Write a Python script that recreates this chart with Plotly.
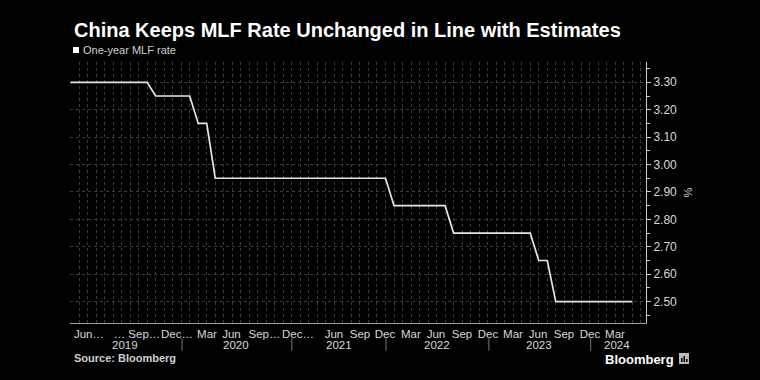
import plotly.graph_objects as go

# One-year MLF rate, one value per observation (x = observation index)
rate = [3.30, 3.30, 3.30, 3.30, 3.30, 3.30, 3.30, 3.30, 3.30, 3.30,
        3.25, 3.25, 3.25, 3.25, 3.25,
        3.15, 3.15,
        2.95, 2.95, 2.95, 2.95, 2.95, 2.95, 2.95, 2.95, 2.95, 2.95,
        2.95, 2.95, 2.95, 2.95, 2.95, 2.95, 2.95, 2.95, 2.95, 2.95, 2.95,
        2.85, 2.85, 2.85, 2.85, 2.85, 2.85, 2.85,
        2.75, 2.75, 2.75, 2.75, 2.75, 2.75, 2.75, 2.75, 2.75, 2.75,
        2.65, 2.65,
        2.50, 2.50, 2.50, 2.50, 2.50, 2.50, 2.50, 2.50, 2.50, 2.50]
obs = list(range(len(rate)))

# month tick labels (as drawn, with Bloomberg's truncation marks)
tick_pos = [2.17, 7.81, 12.51, 16.03, 18.91, 22.79, 26.72, 30.95, 34.0, 36.94,
            39.99, 42.93, 45.98, 49.04, 51.98, 54.92, 57.97, 61.02, 63.96]
tick_text = ["Jun…", "… Sep…", "Dec…", "Mar", "Jun", "Sep…", "Dec…", "Jun", "Sep", "Dec",
             "Mar", "Jun", "Sep", "Dec", "Mar", "Jun", "Sep", "Dec", "Mar"]

years = ["2019", "2020", "2021", "2022", "2023", "2024"]
year_pos = [6.40, 19.44, 31.48, 43.05, 55.03, 64.25]
year_sep = [13.1, 26.0, 37.06, 49.15, 61.1]

y_ticks = [2.50, 2.60, 2.70, 2.80, 2.90, 3.00, 3.10, 3.20, 3.30]

FONT = "Liberation Sans, Roboto, sans-serif"
GRID = "#3a3a3a"

fig = go.Figure()
fig.add_trace(go.Scatter(x=obs, y=rate, mode="lines",
                         line=dict(color="#e6e6e6", width=1.7),
                         name="One-year MLF rate", showlegend=False,
                         hoverinfo="skip"))

fig.update_layout(
    width=760, height=380,
    margin=dict(l=70, r=114, t=62, b=57),
    paper_bgcolor="#000000", plot_bgcolor="#000000",
    font=dict(family=FONT, color="#d9d9d9", size=12),
    showlegend=False,
)

fig.update_xaxes(
    range=[-0.06, 67.6],
    tickmode="array", tickvals=tick_pos, ticktext=tick_text, tickangle=0,
    ticks="", showgrid=False, zeroline=False,
    showline=True, linecolor="#9a9a9a", linewidth=1,
    tickfont=dict(family=FONT, size=11.5, color="#d9d9d9"),
    minor=dict(tickmode="linear", tick0=0, dtick=1, showgrid=True,
               gridcolor=GRID, griddash="dot", gridwidth=1, ticks=""),
)

fig.update_yaxes(
    side="right", range=[2.422, 3.374],
    tickmode="array", tickvals=y_ticks, tickformat=".2f",
    ticks="outside", ticklen=4, tickcolor="#cccccc",
    showgrid=True, gridcolor=GRID, griddash="dot", gridwidth=1,
    zeroline=False, showline=True, linecolor="#cccccc", linewidth=1,
    tickfont=dict(family=FONT, size=12, color="#d9d9d9"),
    title=dict(text="%", font=dict(family=FONT, size=11, color="#d9d9d9"), standoff=8),
    minor=dict(tickmode="linear", tick0=2.45, dtick=0.1, ticks="outside",
               ticklen=3, tickcolor="#cccccc", showgrid=False),
)

annotations = []
for label, pos in zip(years, year_pos):
    annotations.append(dict(x=pos, y=-0.084, xref="x", yref="paper", text=label,
                            showarrow=False, yanchor="middle", xanchor="center",
                            font=dict(family=FONT, size=11.5, color="#d9d9d9")))
shapes = []
for pos in year_sep:
    shapes.append(dict(type="line", xref="x", yref="paper", x0=pos, x1=pos,
                       y0=-0.058, y1=-0.106, line=dict(color="#777777", width=1)))

# title, legend, source, logo (placed in pixels, converted below)
annotations += [
    dict(x=72, y=30, text="<b>China Keeps MLF Rate Unchanged in Line with Estimates</b>",
         showarrow=False, xanchor="left", yanchor="middle",
         font=dict(family=FONT, size=20, color="#ffffff")),
    dict(x=81, y=50, text="One-year MLF rate", showarrow=False, xanchor="left", yanchor="middle",
         font=dict(family=FONT, size=11, color="#d0d0d0")),
    dict(x=72, y=358, text="<b>Source: Bloomberg</b>", showarrow=False, xanchor="left", yanchor="middle",
         font=dict(family=FONT, size=11, color="#d0d0d0")),
    dict(x=676, y=359, text="<b>Bloomberg</b>", showarrow=False, xanchor="right", yanchor="middle",
         font=dict(family=FONT, size=13, color="#ffffff")),
]
plot_l, plot_t, plot_w, plot_h = 70, 62, 576, 261
for a in annotations[len(years):]:
    a["xref"] = "paper"; a["yref"] = "paper"
    a["x"] = (a["x"] - plot_l) / plot_w
    a["y"] = 1 - (a["y"] - plot_t) / plot_h

def px_rect(x0, y0, x1, y1, **kw):
    return dict(type="rect", xref="paper", yref="paper",
                x0=(x0 - plot_l) / plot_w, x1=(x1 - plot_l) / plot_w,
                y0=1 - (y0 - plot_t) / plot_h, y1=1 - (y1 - plot_t) / plot_h, **kw)

shapes.append(px_rect(73, 47, 79, 53, fillcolor="#ffffff", line=dict(width=0)))
shapes.append(px_rect(679, 353, 689, 364, fillcolor="#bbbbbb", line=dict(width=0)))
for bx0, by0 in [(681, 358), (683.5, 356), (686, 359)]:
    shapes.append(px_rect(bx0, by0, bx0 + 1.5, 362, fillcolor="#000000", line=dict(width=0)))

fig.update_layout(annotations=annotations, shapes=shapes)
fig.write_html("out.html", config={"displayModeBar": False},
               post_script="document.body.style.margin='0';document.body.style.background='#000';")
